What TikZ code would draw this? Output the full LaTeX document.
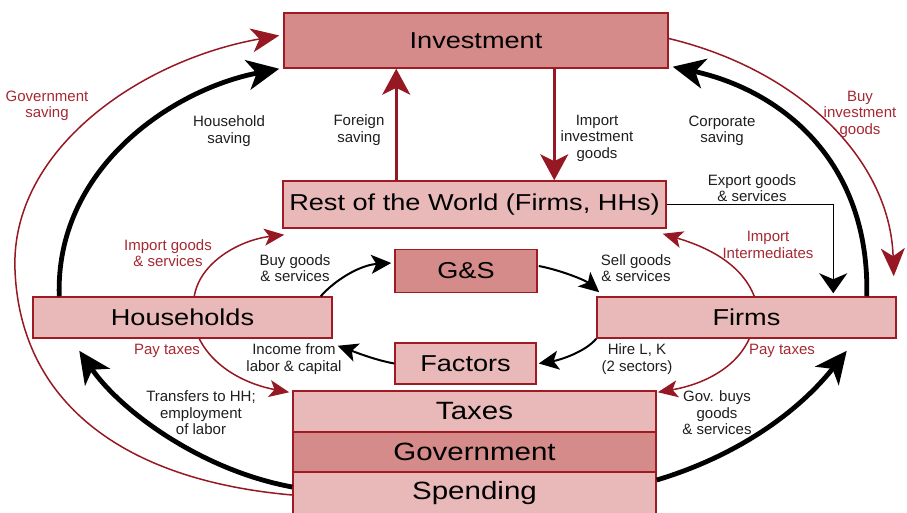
\documentclass[tikz,border=0pt]{standalone}
\usepackage{fontspec}
\setmainfont{Liberation Sans}
\newfontfamily\widefont{Liberation Sans}[FakeStretch=1.18]
\usetikzlibrary{arrows.meta,calc}
\definecolor{boxline}{RGB}{158,27,36}
\definecolor{lightfill}{RGB}{232,185,184}
\definecolor{darkfill}{RGB}{212,139,137}
\definecolor{arrred}{RGB}{150,24,34}
\definecolor{lblred}{RGB}{165,40,50}
\definecolor{lblblack}{RGB}{30,30,30}
\begin{document}
\begin{tikzpicture}[x=1pt,y=-1pt,
  box/.style={draw=boxline, line width=1.5pt, fill=lightfill, inner sep=0pt,
    text=black, font=\widefont\fontsize{23}{26}\selectfont},
  darkbox/.style={box, fill=darkfill},
  govbox/.style={box, minimum width=363pt, font=\widefont\fontsize{25}{28}\selectfont},
  lbl/.style={align=center, text=lblblack, inner sep=0pt, font=\fontsize{15}{16.5}\selectfont},
  rlbl/.style={lbl, text=lblred},
  redthin/.style={draw=arrred, line width=1.5pt, -{Stealth[length=20pt,width=17pt,inset=5pt]}},
  redbig/.style={draw=arrred, line width=1.5pt, -{Stealth[length=28pt,width=24pt,inset=8pt]}},
  redvert/.style={draw=arrred, line width=3pt, -{Stealth[length=26pt,width=28pt,inset=7pt]}},
  blackmed/.style={draw=black, line width=2pt, -{Stealth[length=20pt,width=19pt,inset=5pt]}},
  blackthin/.style={draw=black, line width=1.5pt, -{Stealth[length=20pt,width=28pt,inset=6pt]}},
  blackthick/.style={draw=black, line width=4.8pt, -{Stealth[length=32pt,width=30pt,inset=9pt]}}
]
\useasboundingbox (0,0) rectangle (907,513);
\clip (0,0) rectangle (907,513);

% boxes
\node[darkbox, minimum width=384pt, minimum height=55pt] (inv) at (476,40.5) {Investment};
\node[box, minimum width=383pt, minimum height=47pt] (row) at (474.5,204.5) {Rest of the World (Firms, HHs)};
\node[darkbox, minimum width=142pt, minimum height=43pt] (gs) at (466,271) {G\&S};
\node[box, minimum width=141pt, minimum height=41pt] (fac) at (465.5,363.5) {Factors};
\node[box, minimum width=299pt, minimum height=41pt] (hh) at (182.5,317.5) {Households};
\node[box, minimum width=299pt, minimum height=41pt] (firms) at (746.5,317.5) {Firms};
\node[govbox, minimum height=41pt] (taxes) at (474.5,411.5) {Taxes};
\node[govbox, fill=darkfill, minimum height=40pt] (gov) at (474.5,452) {Government};
\node[govbox, minimum height=42pt] (spend) at (474.5,493) {Spending};

% vertical red arrows
\draw[redvert] ($(row.north west)+(114,0)$) -- ($(inv.south west)+(113,0)$);
\draw[redvert] ($(inv.south west)+(271,0)$) -- ($(row.north west)+(272,0)$);

% saving arcs
\draw[blackthick] ($(hh.north west)+(27,0)$) .. controls (55,170) and (170,90) .. ($(inv.south west)+(-4,0)$);
\draw[redbig] ($(spend.west)+(0,2)$) .. controls (120,480) and (20,400) .. (15,270)
   .. controls (10,150) and (140,60) .. ($(inv.west)+(-4,-5)$);
\draw[blackthick] ($(firms.north east)+(-30,0)$) .. controls (870,160) and (780,90) .. ($(inv.south east)+(4,-2)$);
\draw[redbig] ($(inv.east)+(0,-2)$) .. controls (800,70) and (890,160) .. ($(firms.north east)+(-3,-20)$);

% export
\draw[blackthin] (row.east) -| ($(firms.north west)+(237,-3)$);

% goods flows
\draw[redthin] ($(hh.north west)+(162,0)$) .. controls (200,262) and (240,240) .. ($(row.south west)+(2,6)$);
\draw[blackmed] ($(hh.north east)+(-12,0)$) .. controls (335,280) and (360,265) .. ($(gs.west)+(-3,-8)$);
\draw[blackmed] ($(gs.east)+(1,-5)$) .. controls (560,270) and (585,280) .. ($(firms.north west)+(3,-4)$);
\draw[redthin] ($(firms.north west)+(158,0)$) .. controls (740,260) and (700,245) .. ($(row.south east)+(-4,5)$);
\draw[blackmed] (firms.south west) .. controls (585,352) and (560,360) .. ($(fac.east)+(2,0)$);
\draw[blackmed] (fac.west) .. controls (375,360) and (355,352) .. ($(hh.south east)+(5,7)$);

% taxes
\draw[redthin] ($(hh.south west)+(167,0)$) .. controls (215,370) and (250,385) .. ($(taxes.north west)+(-3,2)$);
\draw[redthin] ($(firms.south west)+(153,0)$) .. controls (735,370) and (700,385) .. ($(taxes.north east)+(1,2)$);

% spending
\draw[blackthick] ($(spend.west)+(0,-6)$) .. controls (200,470) and (120,410) .. ($(hh.south west)+(47,12)$);
\draw[blackthick] ($(spend.east)+(0,-13)$) .. controls (740,455) and (800,410) .. ($(firms.south east)+(-50,12)$);

% labels
\node[rlbl] (lgs) at (47,106) {Government\\saving};
\node[lbl] (lhs) at (229,131) {Household\\saving};
\node[lbl] (lfs) at (359,130) {Foreign\\saving};
\node[lbl] (lii) at (597,138) {Import\\investment\\goods};
\node[lbl] (lcs) at (722,131) {Corporate\\saving};
\node[rlbl] (lbi) at (860,114) {Buy\\investment\\goods};
\node[lbl] (lex) at (752,188) {Export goods\\\& services};
\node[rlbl] (lim) at (768,245) {Import\\Intermediates};
\node[rlbl] (lig) at (168,253) {Import goods\\\& services};
\node[lbl] (lbg) at (295,268) {Buy goods\\\& services};
\node[lbl] (lsg) at (636,268) {Sell goods\\\& services};
\node[rlbl] (lpt1) at (167,351) {Pay taxes};
\node[lbl] (linc) at (294,359) {Income from\\labor \& capital};
\node[lbl] (lhire) at (637,359) {Hire L, K\\(2 sectors)};
\node[rlbl] (lpt2) at (782,351) {Pay taxes};
\node[lbl] (ltr) at (201,413) {Transfers to HH;\\employment\\of labor};
\node[lbl] (lgb) at (717,413) {Gov. buys\\goods\\\& services};
\end{tikzpicture}
\end{document}
